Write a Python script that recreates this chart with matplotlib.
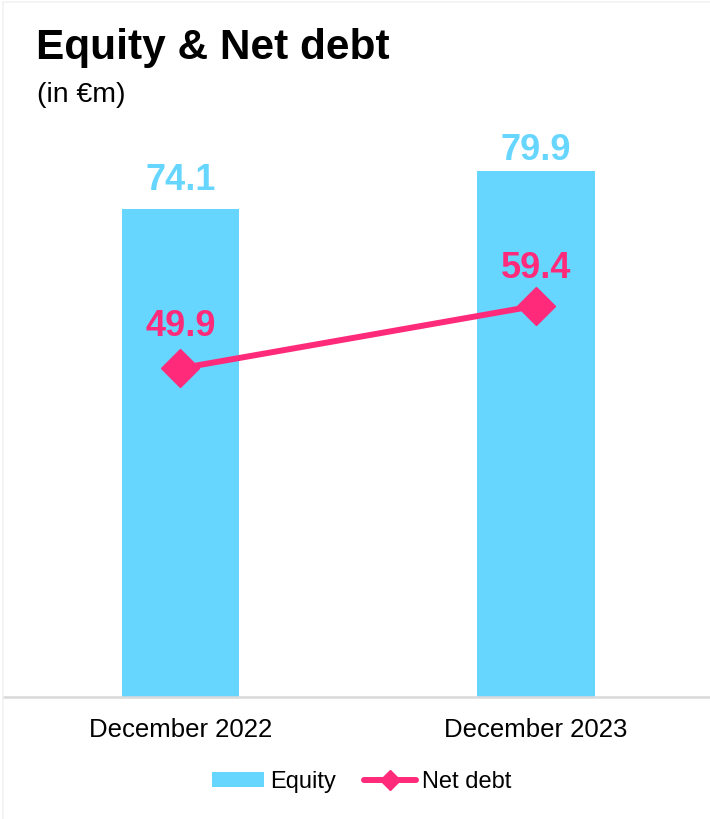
import numpy as np
import matplotlib.pyplot as plt
from matplotlib.patches import Rectangle

plt.rcParams['font.family'] = ['Liberation Sans', 'DejaVu Sans']

# Values in EUR million
periods = ['December 2022', 'December 2023']
equity = [74.1, 79.9]
net_debt = [49.9, 59.4]

EQUITY_COLOR = '#66D6FF'
DEBT_COLOR = '#FF2A7A'

# label offsets above each mark, in points
equity_offsets = [13.5, 8]
debt_offsets = [23.5, 20]

W, H = 710, 819
fig = plt.figure(figsize=(W / 100, H / 100), dpi=100)
fig.patch.set_facecolor('white')

# faint frame along the top and left edge of the panel
fig.add_artist(Rectangle((3 / W, -0.1), 1.2, 1.1 - 2 / H, transform=fig.transFigure,
                         fill=False, edgecolor='#F2F2F2', linewidth=1.2))

ax_bottom = 1 - 697 / H
ax_top = 1 - 120 / H
ax = fig.add_axes([3 / W, ax_bottom, 1 - 3 / W, ax_top - ax_bottom])

x = np.arange(len(periods))
bars = ax.bar(x, equity, width=0.33, color=EQUITY_COLOR, label='Equity', zorder=2)
line, = ax.plot(x, net_debt, color=DEBT_COLOR, linewidth=4.3, marker='D',
                markersize=19, solid_capstyle='round', label='Net debt', zorder=3)

for xi, v, off in zip(x, equity, equity_offsets):
    ax.annotate(f'{v:.1f}', (xi, v), xytext=(0, off), textcoords='offset points',
                ha='center', va='baseline', fontsize=26, fontweight='bold',
                color=EQUITY_COLOR)
for xi, v, off in zip(x, net_debt, debt_offsets):
    ax.annotate(f'{v:.1f}', (xi, v), xytext=(0, off), textcoords='offset points',
                ha='center', va='baseline', fontsize=26, fontweight='bold',
                color=DEBT_COLOR)

ax.set_xlim(-0.499, 1.489)
ax.set_ylim(0, 87.6)
ax.set_xticks(x)
ax.set_xticklabels(periods, fontsize=18.5)
ax.tick_params(axis='x', length=0, pad=15)
ax.set_yticks([])
for side in ['top', 'right', 'left']:
    ax.spines[side].set_visible(False)
ax.spines['bottom'].set_color('#D9D9D9')
ax.spines['bottom'].set_linewidth(1.8)

fig.text(36 / W, 1 - 59 / H, 'Equity & Net debt', fontsize=30.5,
         fontweight='bold', va='baseline', ha='left')
fig.text(37 / W, 1 - 102 / H, '(in €m)', fontsize=20.5, va='baseline', ha='left')

fig.legend(handles=[bars, line], loc='center',
           bbox_to_anchor=(362 / W, 1 - 782 / H), ncol=2, frameon=False,
           fontsize=17, handlelength=2.2, handleheight=0.6,
           handletextpad=0.25, columnspacing=1.2, markerscale=0.55)

fig.savefig('out.png', dpi=100, facecolor='white')
